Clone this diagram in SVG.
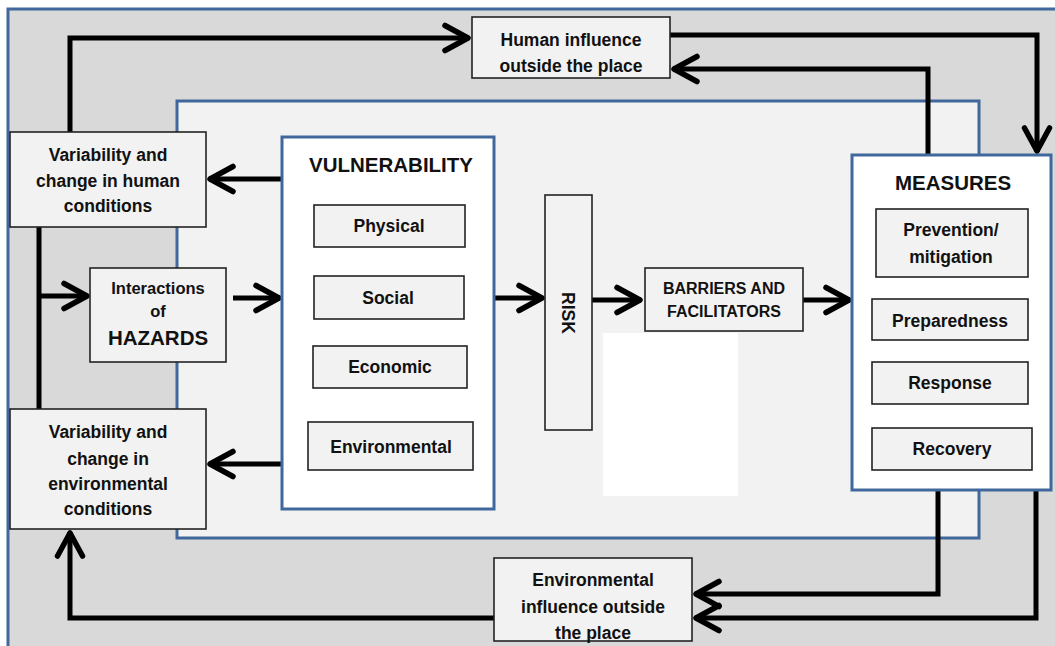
<svg xmlns="http://www.w3.org/2000/svg" width="1055" height="646" viewBox="0 0 1055 646">
<defs>
<style>
.box{fill:#f2f2f2;stroke:#222;stroke-width:1.6}
.blue{stroke:#41689c;stroke-width:3}
.t{font-family:"Liberation Sans",Arial,sans-serif;font-weight:bold;font-size:17.5px;fill:#111;text-anchor:middle}
.s{font-size:16.5px}
.big{font-size:20.5px}
.c{fill:none;stroke:#000;stroke-width:5;stroke-linejoin:miter}
</style>
<marker id="ah" viewBox="-30 -16 38 32" refX="0" refY="0" markerWidth="38" markerHeight="32" markerUnits="userSpaceOnUse" orient="auto">
<path d="M-24,-12.5 L-1,0 L-24,12.5" fill="none" stroke="#000" stroke-width="5.5" stroke-linecap="round" stroke-linejoin="round"/>
</marker>
</defs>
<rect x="0" y="0" width="1055" height="646" fill="#fff"/>
<rect id="frame" x="8" y="9" width="1070" height="660" fill="#d9d9d9" stroke="#41689c" stroke-width="3"/>
<rect id="panel" x="177" y="101" width="802" height="437" fill="#f2f2f2" stroke="#41689c" stroke-width="3"/>
<rect x="603" y="333" width="135" height="163" fill="#fff"/>

<g id="connectors">
<path class="c" d="M70,132 V38 H469" marker-end="url(#ah)"/>
<path class="c" d="M670,35 H1037 V152" marker-end="url(#ah)"/>
<path class="c" d="M928,155 V69 H673" marker-end="url(#ah)"/>
<path class="c" d="M282,179 H209" marker-end="url(#ah)"/>
<path class="c" d="M39,227 V409"/>
<path class="c" d="M39,296 H88" marker-end="url(#ah)"/>
<path class="c" d="M233,298 H280" marker-end="url(#ah)"/>
<path class="c" d="M494,298 H543" marker-end="url(#ah)"/>
<path class="c" d="M592,300 H641" marker-end="url(#ah)"/>
<path class="c" d="M803,300 H850" marker-end="url(#ah)"/>
<path class="c" d="M282,464 H209" marker-end="url(#ah)"/>
<path class="c" d="M494,618 H70 V532" marker-end="url(#ah)"/>
<path class="c" d="M938,490 V594 H695" marker-end="url(#ah)"/>
<path class="c" d="M1036,490 V618 H695" marker-end="url(#ah)"/>
</g>

<g id="human-influence">
<rect class="box" x="472" y="17" width="198" height="61"/>
<text class="t" x="571" y="46">Human influence</text>
<text class="t" x="571" y="72">outside the place</text>
</g>

<g id="var-human">
<rect class="box" x="10" y="132" width="196" height="95"/>
<text class="t" x="108" y="161">Variability and</text>
<text class="t" x="108" y="187">change in human</text>
<text class="t" x="108" y="212">conditions</text>
</g>

<g id="hazards">
<rect class="box" x="90" y="268" width="136" height="94"/>
<text class="t s" x="158" y="294">Interactions</text>
<text class="t s" x="158" y="317">of</text>
<text class="t big" x="158" y="345">HAZARDS</text>
</g>

<g id="var-env">
<rect class="box" x="10" y="409" width="196" height="120"/>
<text class="t" x="108" y="438">Variability and</text>
<text class="t" x="108" y="465">change in</text>
<text class="t" x="108" y="490">environmental</text>
<text class="t" x="108" y="515">conditions</text>
</g>

<g id="vulnerability">
<rect x="282" y="137" width="212" height="372" fill="#fff" class="blue"/>
<text class="t big" x="391" y="172">VULNERABILITY</text>
</g>
<g id="physical">
<rect class="box" x="314" y="205" width="151" height="42"/>
<text class="t" x="389" y="232">Physical</text>
</g>
<g id="social">
<rect class="box" x="314" y="276" width="150" height="43"/>
<text class="t" x="388" y="304">Social</text>
</g>
<g id="economic">
<rect class="box" x="313" y="346" width="154" height="42"/>
<text class="t" x="390" y="373">Economic</text>
</g>
<g id="environmental">
<rect class="box" x="308" y="422" width="165" height="48"/>
<text class="t" x="391" y="453">Environmental</text>
</g>

<g id="risk">
<rect class="box" x="545" y="195" width="47" height="235"/>
<text class="t" x="568" y="313" font-size="18" dy="6.5" transform="rotate(90 568 313)">RISK</text>
</g>

<g id="barriers">
<rect class="box" x="645" y="268" width="158" height="63"/>
<text class="t" x="724" y="294" style="font-size:16px">BARRIERS AND</text>
<text class="t" x="724" y="317" style="font-size:16px">FACILITATORS</text>
</g>

<g id="measures">
<rect x="852" y="155" width="199" height="335" fill="#fff" class="blue"/>
<text class="t big" x="953" y="190">MEASURES</text>
</g>
<g id="prevention">
<rect class="box" x="876" y="209" width="152" height="68"/>
<text class="t" x="951" y="236">Prevention/</text>
<text class="t" x="951" y="263">mitigation</text>
</g>
<g id="preparedness">
<rect class="box" x="872" y="299" width="156" height="41"/>
<text class="t" x="950" y="327">Preparedness</text>
</g>
<g id="response">
<rect class="box" x="872" y="362" width="156" height="42"/>
<text class="t" x="950" y="389">Response</text>
</g>
<g id="recovery">
<rect class="box" x="872" y="428" width="160" height="42"/>
<text class="t" x="952" y="455">Recovery</text>
</g>

<g id="env-influence">
<rect class="box" x="494" y="558" width="198" height="83"/>
<text class="t" x="593" y="586">Environmental</text>
<text class="t" x="593" y="613">influence outside</text>
<text class="t" x="593" y="639">the place</text>
</g>
</svg>
